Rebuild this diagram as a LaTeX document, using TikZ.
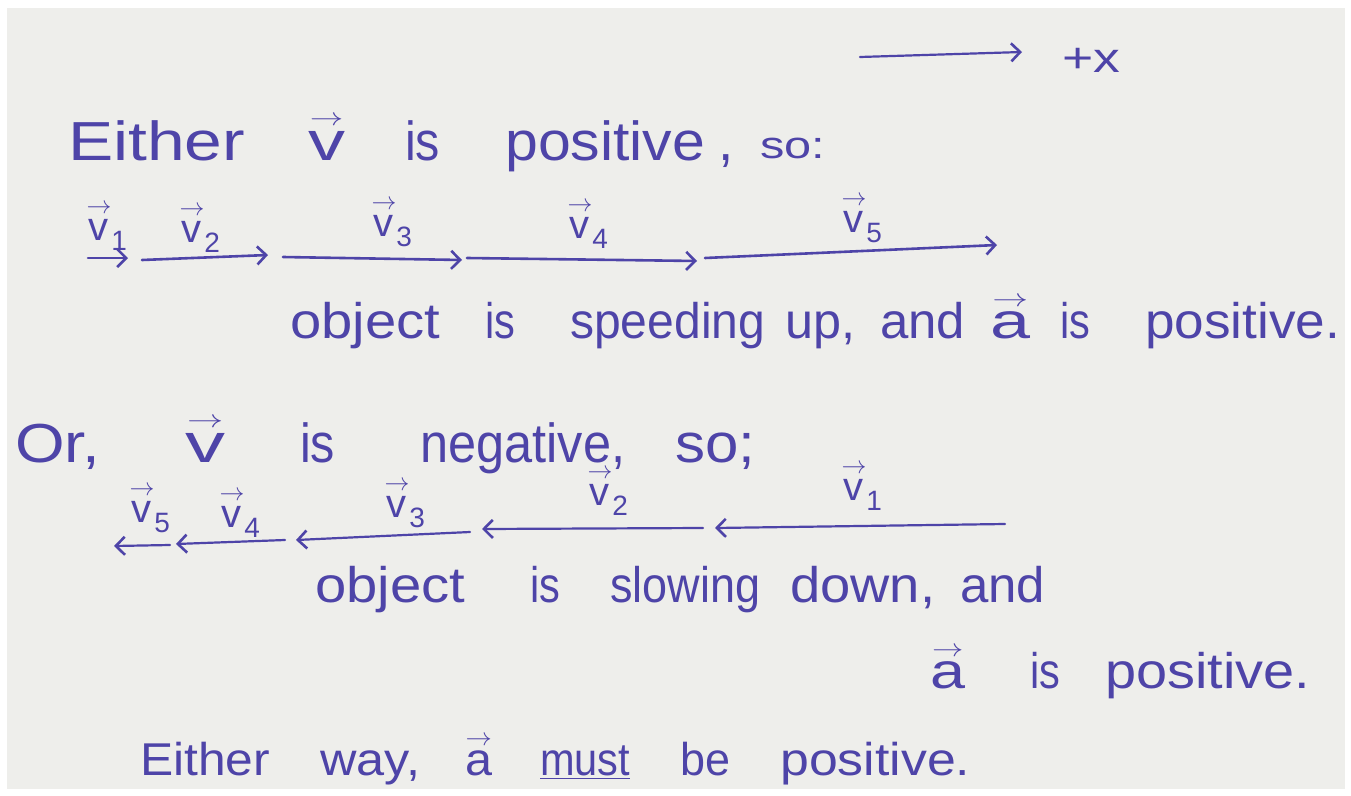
\documentclass[tikz,border=0pt]{standalone}
\usepackage{amsmath}
\usepackage{graphicx}
\usepackage{fontspec}
\setmainfont{Liberation Sans}
\usetikzlibrary{arrows.meta}
\definecolor{ink}{RGB}{78,68,168}
\definecolor{paper}{RGB}{238,238,235}
\newcommand\vv[1]{\ensuremath{\overset{\rightarrow}{\text{#1}}}}
\newcommand\vs[1]{\ensuremath{\overset{\rightarrow}{\text{v}}_{\text{#1}}}}
\newcommand\W[2]{\resizebox{#1pt}{\height}{#2}}
\begin{document}
\begin{tikzpicture}[x=1pt,y=-1pt,
  txt/.style={anchor=base west, inner sep=0pt, text=ink},
  big/.style={txt, font=\fontsize{55}{55}\selectfont},
  mid/.style={txt, font=\fontsize{50}{50}\selectfont},
  sml/.style={txt, font=\fontsize{46}{46}\selectfont},
  lbl/.style={anchor=base, inner sep=0pt, text=ink, font=\fontsize{40}{40}\selectfont},
  vec/.style={draw=ink, line width=2.6pt, line cap=round, -{Straight Barb[length=9pt,width=18pt,line width=2.6pt]}},
  thinvec/.style={vec, line width=2.2pt}]
\useasboundingbox (0,0) rectangle (1351,795);
\fill[white] (0,0) rectangle (1351,795);
\fill[paper] (7,8) rectangle (1345,789);

% +x axis
\coordinate (xa) at (860,57);
\coordinate (xb) at (1022,52);
\draw[thinvec] (xa) -- (xb);
\node[txt, font=\fontsize{42}{42}\selectfont] (plusx) at (1062,72) {\W{58}{+x}};

% line 1
\node[big] (e1) at (68,160) {\W{177}{Either}};
\node[big] (e2) at (308,160) {\W{37}{\vv{v}}};
\node[big] (e3) at (405,160) {\W{35}{is}};
\node[big] (e4) at (505,160) {\W{200}{positive}};
\node[big] (e5) at (718,160) {,};
\node[txt, font=\fontsize{38}{38}\selectfont] (e6) at (760,158) {\W{65}{so:}};

% row 1 labels
\node[lbl] (a1) at (107,240) {\vs{1}};
\node[lbl] (a2) at (200,242) {\vs{2}};
\node[lbl] (a3) at (392,236) {\vs{3}};
\node[lbl] (a4) at (588,238) {\vs{4}};
\node[lbl] (a5) at (862,232) {\vs{5}};

% row 1 arrows
\coordinate (p0) at (88,258);
\coordinate (p1) at (128,258);
\coordinate (q1) at (142,260);
\coordinate (q2) at (268,255);
\coordinate (r2) at (283,257);
\coordinate (r3) at (462,260);
\coordinate (s3) at (467,258);
\coordinate (s4) at (697,261);
\coordinate (t4) at (705,258);
\coordinate (t5) at (997,245);
\draw[vec] (p0) -- (p1);
\draw[vec] (q1) -- (q2);
\draw[vec] (r2) -- (r3);
\draw[vec] (s3) -- (s4);
\draw[vec] (t4) -- (t5);

% line 2
\node[mid] (f1) at (290,338) {\W{150}{object}};
\node[mid] (f2) at (485,338) {\W{30}{is}};
\node[mid] (f3) at (570,338) {\W{195}{speeding}};
\node[mid] (f4) at (785,338) {\W{70}{up,}};
\node[mid] (f5) at (880,338) {\W{85}{and}};
\node[mid] (f6) at (990,338) {\W{40}{\vv{a}}};
\node[mid] (f7) at (1060,338) {\W{30}{is}};
\node[mid] (f8) at (1145,338) {\W{195}{positive.}};

% line 3
\node[big] (g1) at (15,462) {\W{85}{Or,}};
\node[big] (g2) at (185,462) {\W{40}{\vv{v}}};
\node[big] (g3) at (300,462) {\W{35}{is}};
\node[big] (g4) at (420,462) {\W{205}{negative,}};
\node[big] (g5) at (675,462) {\W{80}{so;}};

% row 2 labels
\node[lbl] (b5) at (150,522) {\vs{5}};
\node[lbl] (b4) at (240,527) {\vs{4}};
\node[lbl] (b3) at (405,517) {\vs{3}};
\node[lbl] (b2) at (608,505) {\vs{2}};
\node[lbl] (b1) at (862,500) {\vs{1}};

% row 2 arrows
\coordinate (m1) at (1005,524);
\coordinate (m2) at (715,528);
\coordinate (n2) at (703,528);
\coordinate (n3) at (482,529);
\coordinate (o3) at (470,532);
\coordinate (o4) at (296,540);
\coordinate (u4) at (285,540);
\coordinate (u5) at (176,544);
\coordinate (w5) at (170,545);
\coordinate (w6) at (114,546);
\draw[thinvec] (m1) -- (m2);
\draw[thinvec] (n2) -- (n3);
\draw[thinvec] (o3) -- (o4);
\draw[thinvec] (u4) -- (u5);
\draw[thinvec] (w5) -- (w6);

% line 4
\node[mid] (h1) at (315,602) {\W{150}{object}};
\node[mid] (h2) at (530,602) {\W{30}{is}};
\node[mid] (h3) at (610,602) {\W{150}{slowing}};
\node[mid] (h4) at (790,602) {\W{145}{down,}};
\node[mid] (h5) at (960,602) {\W{85}{and}};

% line 5
\node[mid] (k1) at (930,688) {\W{35}{\vv{a}}};
\node[mid] (k2) at (1030,688) {\W{30}{is}};
\node[mid] (k3) at (1105,688) {\W{205}{positive.}};

% line 6
\node[sml] (z1) at (140,775) {\W{130}{Either}};
\node[sml] (z2) at (320,775) {\W{100}{way,}};
\node[sml] (z3) at (465,775) {\W{27}{\vv{a}}};
\node[sml] (z4) at (540,775) {\W{90}{\underline{must}}};
\node[sml] (z5) at (680,775) {\W{50}{be}};
\node[sml] (z6) at (780,775) {\W{190}{positive.}};
\end{tikzpicture}
\end{document}
